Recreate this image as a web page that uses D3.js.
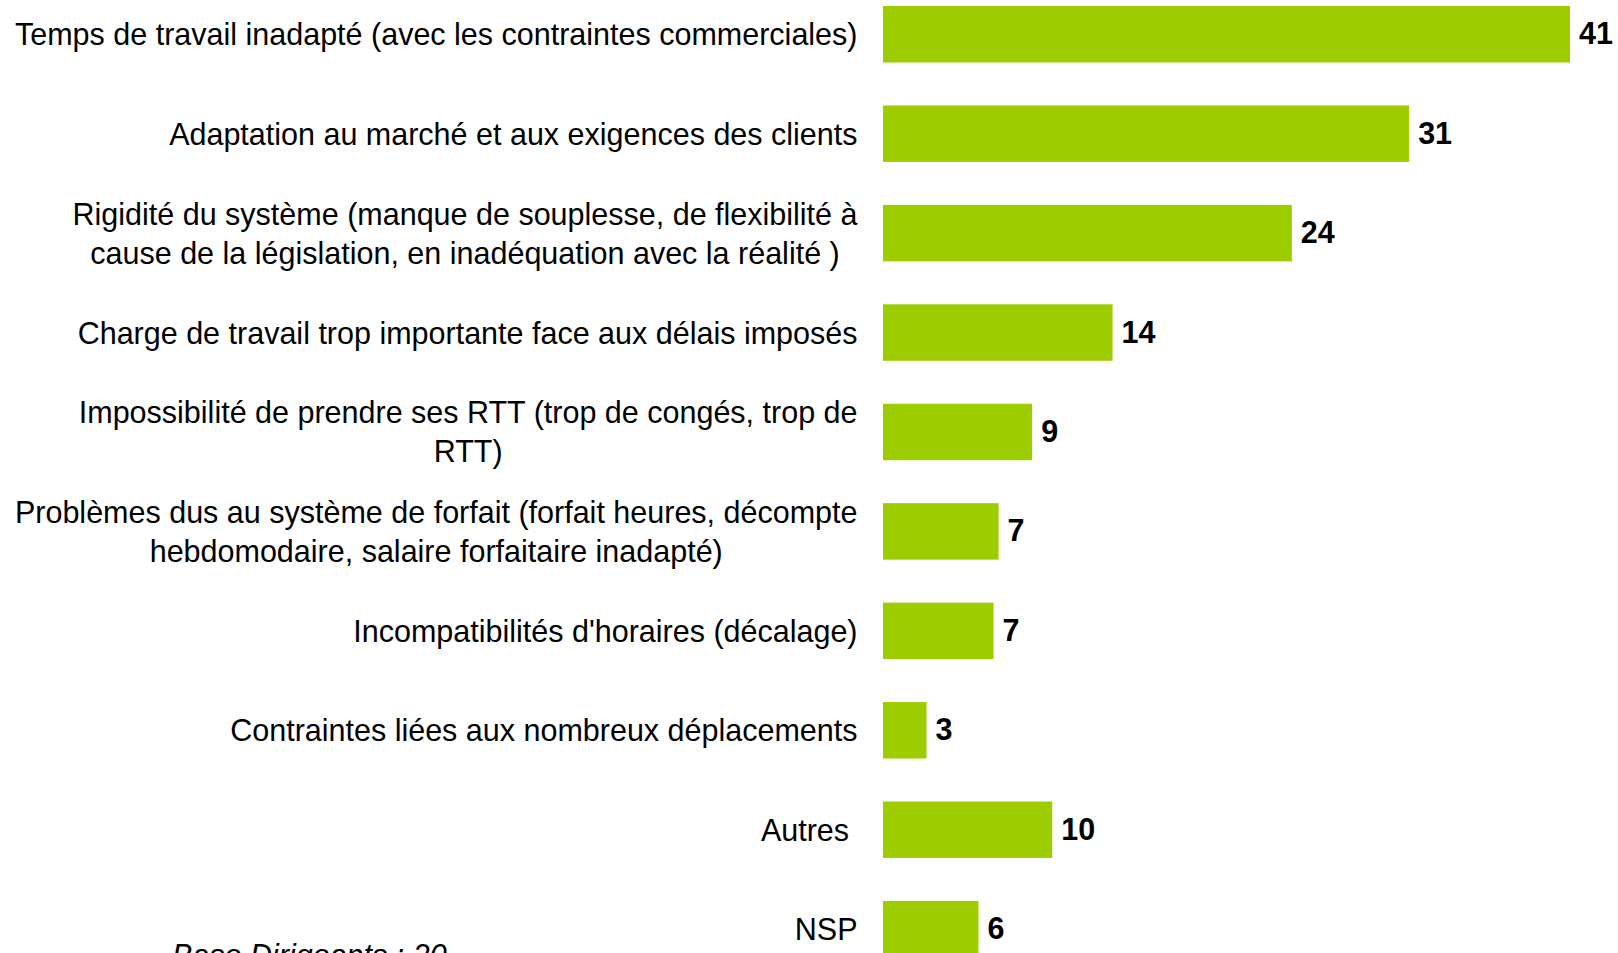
<!DOCTYPE html>
<html>
<head>
<meta charset="utf-8">
<script src="https://cdnjs.cloudflare.com/ajax/libs/d3/7.8.5/d3.min.js"></script>
<style>
  body { margin: 0; background: #ffffff; }
  svg { display: block; }
  .axis text { font-family: "Liberation Sans", Arial, sans-serif; font-size: 30.5px; fill: #000000; }
  .value { font-family: "Liberation Sans", Arial, sans-serif; font-size: 30.5px; font-weight: bold; fill: #000000; }
  .base { font-family: "Liberation Sans", Arial, sans-serif; font-size: 30.5px; font-style: italic; fill: #000000; }
</style>
</head>
<body>
<div id="chart"></div>
<script>
// categories, one line per entry (the source wraps the long ones)
var categories = [
  ["Temps de travail inadapté (avec les contraintes commerciales)"],
  ["Adaptation au marché et aux exigences des clients"],
  ["Rigidité du système (manque de souplesse, de flexibilité à", "cause de la législation, en inadéquation avec la réalité )"],
  ["Charge de travail trop importante face aux délais imposés"],
  ["Impossibilité de prendre ses RTT (trop de congés, trop de", "RTT)"],
  ["Problèmes dus au système de forfait (forfait heures, décompte", "hebdomodaire, salaire forfaitaire inadapté)"],
  ["Incompatibilités d'horaires (décalage)"],
  ["Contraintes liées aux nombreux déplacements"],
  ["Autres\u00a0"],
  ["NSP"]
];
// percentages (labels show them rounded)
var values = [41.0, 31.4, 24.4, 13.7, 8.9, 6.9, 6.6, 2.6, 10.1, 5.7];
var baseText = "Base Dirigeants : 20";

var wd = 1618;
var ht = 953;
var barColor = "#9dcd00";

var svg = d3.select("#chart").append("svg").attr("width", wd).attr("height", ht);

var keys = categories.map(function(d, i) { return i; });

var xScale = d3.scaleLinear().domain([0, 41]).range([883, 1570]);
var yScale = d3.scaleBand().domain(keys).range([6, 957.4]).paddingInner(0.432).paddingOuter(0);
var fmt = d3.format(".0f");

// category labels through a left axis, then rebuilt as centred line blocks
var yAxis = d3.axisLeft(yScale).tickSize(0).tickPadding(0).tickFormat(function() { return ""; });
var axisG = svg.append("g").attr("class", "axis y").attr("transform", "translate(" + 857.5 + ",0)").call(yAxis);
axisG.select(".domain").remove();

var lineGap = 39;
axisG.selectAll(".tick text").each(function(k) {
  var t = d3.select(this);
  var lines = categories[k];
  t.attr("dy", null).attr("text-anchor", "middle");
  var spans = t.selectAll("tspan").data(lines).enter().append("tspan")
    .attr("y", function(d, i) { return (i - (lines.length - 1) / 2) * lineGap + 11; })
    .text(function(d) { return d; });
  var maxW = 0;
  spans.each(function() { maxW = Math.max(maxW, this.getComputedTextLength()); });
  spans.attr("x", -maxW / 2);
});

svg.selectAll("rect.bar").data(values).enter()
  .append("rect")
  .attr("class", "bar")
  .attr("x", xScale(0))
  .attr("y", function(d, i) { return yScale(i); })
  .attr("width", function(d) { return xScale(d) - xScale(0); })
  .attr("height", yScale.bandwidth())
  .attr("fill", barColor);

svg.selectAll("text.value").data(values).enter()
  .append("text")
  .attr("class", "value")
  .attr("x", function(d) { return xScale(d) + 9; })
  .attr("y", function(d, i) { return yScale(i) + yScale.bandwidth() / 2 + 10; })
  .text(function(d) { return fmt(d); });

// footnote sits partly below the page edge, as in the source
svg.append("text").attr("class", "base").attr("x", 172).attr("y", 966).text(baseText);
</script>
</body>
</html>
